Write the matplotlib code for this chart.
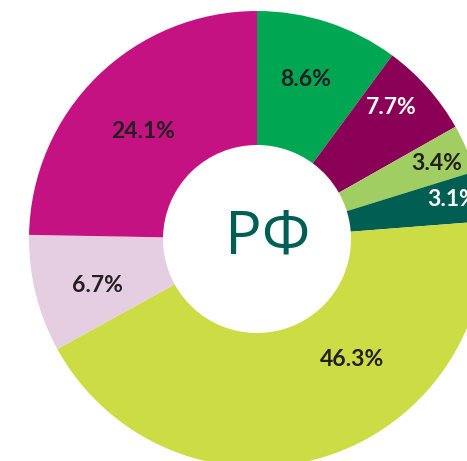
import matplotlib
matplotlib.use("Agg")
import matplotlib.pyplot as plt

# Data (slice shares as drawn in the picture, and their printed labels)
categories = ["A", "B", "C", "D", "E", "F", "G"]
shares = [10.1, 6.7, 3.4, 3.55, 43.2, 8.3, 24.7]
labels = ["8.6%", "7.7%", "3.4%", "3.1%", "46.3%", "6.7%", "24.1%"]
center_text = "РФ"

# Styles / layout
colors = ["#00A651", "#8A0056", "#A1CE62", "#005E53", "#CCDC45", "#E6CEE2", "#C41283"]
label_colors = ["#231F20", "#FFFFFF", "#231F20", "#FFFFFF", "#231F20", "#231F20", "#231F20"]
label_pos = [(306, 79), (391, 108), (437, 163), (453, 199), (352, 359), (97, 286), (143, 131)]

W, H = 467, 461
cx, cy = 257, 239
r_out, r_in = 228, 94

fig = plt.figure(figsize=(W / 100, H / 100), dpi=100)
ax = fig.add_axes([0, 0, 1, 1])
ax.set_xlim(0, W)
ax.set_ylim(0, H)
ax.set_aspect("equal")
ax.axis("off")

ax.pie(shares, colors=colors, startangle=90, counterclock=False,
       center=(cx, H - cy), radius=r_out,
       wedgeprops=dict(width=r_out - r_in, linewidth=0, antialiased=True),
       frame=True)
ax.set_xlim(0, W)
ax.set_ylim(0, H)
ax.axis("off")

for txt, col, (x, y) in zip(labels, label_colors, label_pos):
    ax.text(x, H - y, txt, color=col, ha="center", va="center",
            fontsize=16.5, fontweight="bold", family=["Lato", "DejaVu Sans"])

ax.text(268, H - 238, center_text, color="#005E55", ha="center", va="center",
        fontsize=44, family=["Open Sans", "DejaVu Sans"])

fig.savefig("out.png", dpi=100)
